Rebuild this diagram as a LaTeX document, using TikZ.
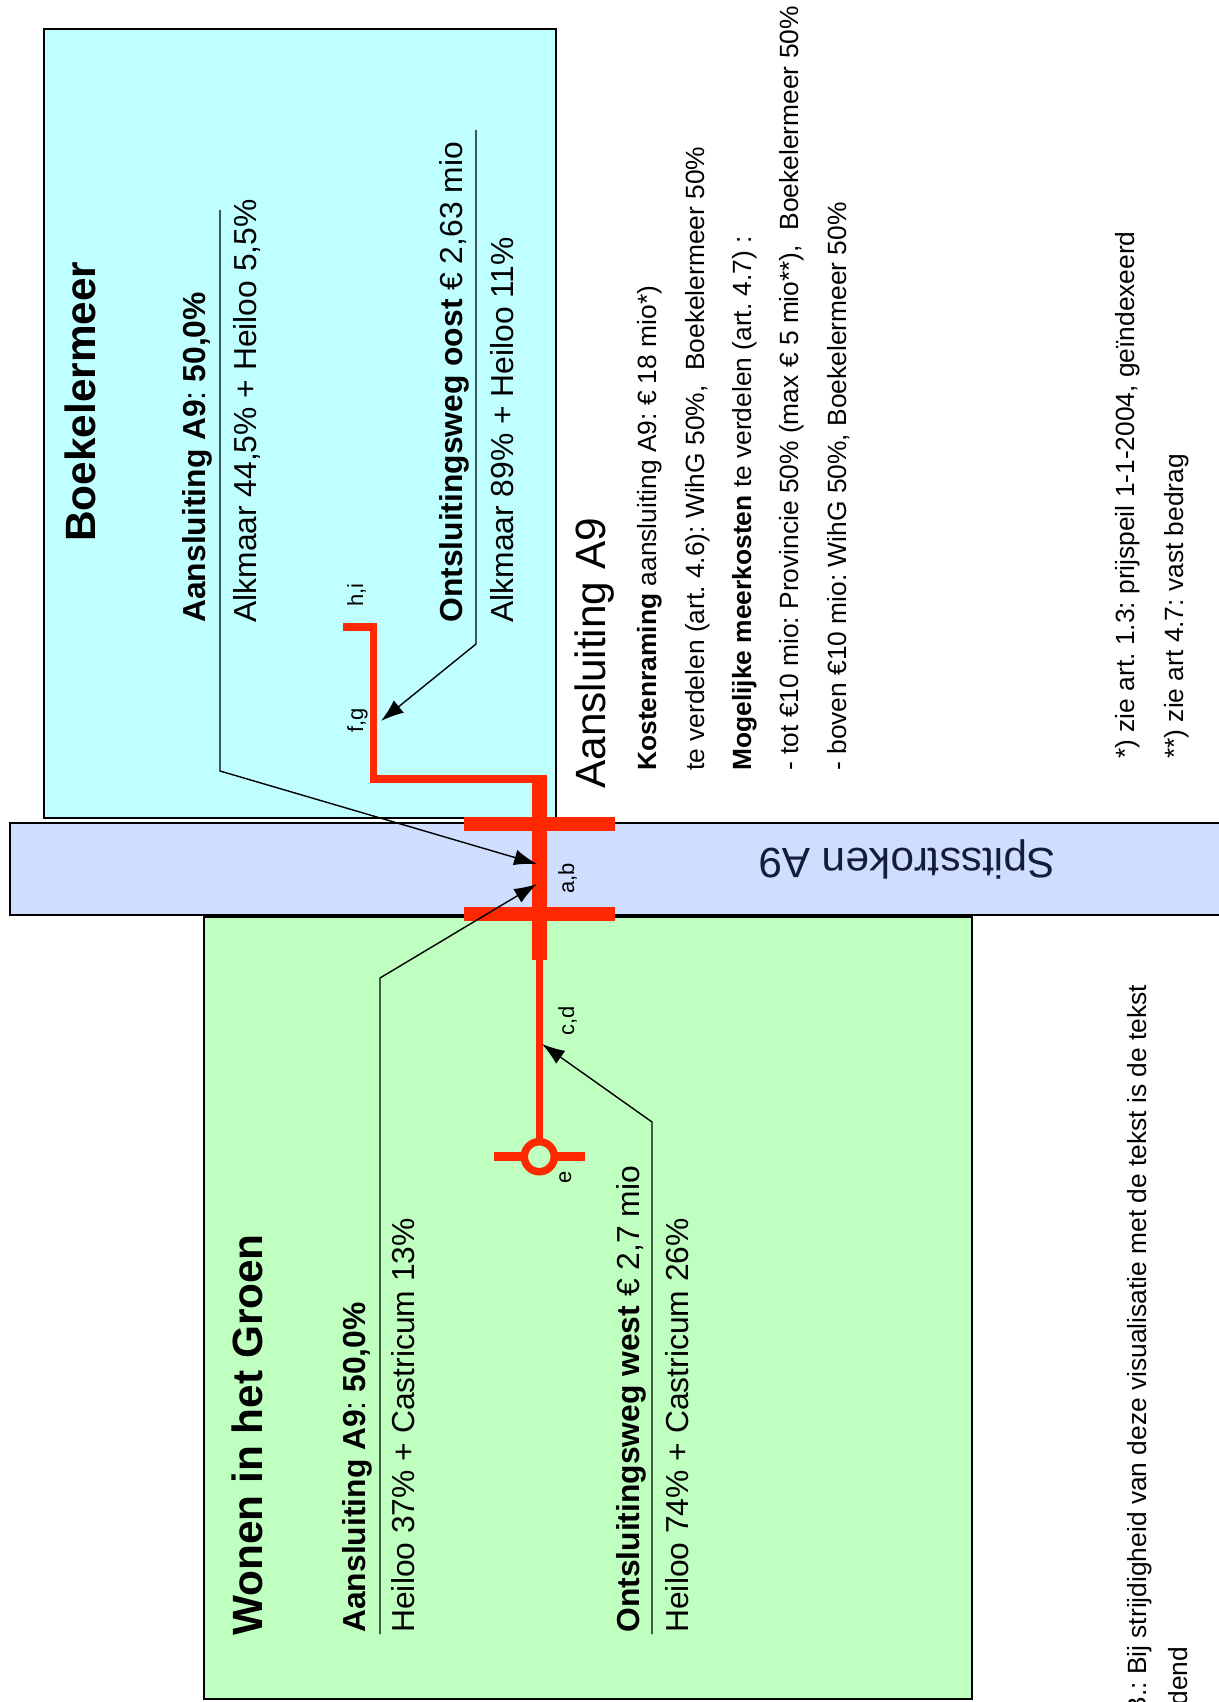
\documentclass[tikz,border=0pt]{standalone}
\usepackage{fontspec}
\setmainfont{Liberation Sans}
\usetikzlibrary{arrows.meta}

\definecolor{boekcyan}{RGB}{191,255,255}
\definecolor{spitsblue}{RGB}{207,222,255}
\definecolor{wihggreen}{RGB}{191,255,191}
\definecolor{roadred}{RGB}{255,40,0}
\definecolor{spitstext}{RGB}{20,28,60}

\tikzset{
	area/.style={draw=black, line width=1.1pt},
	vtext/.style={rotate=90, anchor=base west, inner sep=0pt},
	bigfont/.style={font=\fontsize{24.1}{29}\selectfont},
	boxfont/.style={font=\fontsize{18.1}{22}\selectfont},
	notefont/.style={font=\fontsize{15}{18}\selectfont},
	labelfont/.style={font=\fontsize{12.5}{15}\selectfont},
	road/.style={draw=roadred, line width=4.5pt},
	mainroad/.style={draw=roadred, line width=8.5pt},
	pointer/.style={-{Latex[length=13pt,width=9pt]}, line width=0.8pt},
}

\begin{document}
\frenchspacing
\begin{tikzpicture}[x=0.02cm,y=-0.02cm]
	\useasboundingbox (0,0) rectangle (1218,1702);
	
	% areas
	\filldraw[area, fill=boekcyan] (44,29) rectangle (556,818);
	\filldraw[area, fill=spitsblue] (10,823) rectangle (1240,915);
	\filldraw[area, fill=wihggreen] (204,917) rectangle (972,1699);
	
	\node[rotate=180, anchor=base, inner sep=0pt, bigfont, text=spitstext] (spits) at (907,848) {Spitsstroken A9};
	
	% road
	\draw[road] (343,627) -- (373.5,627) -- (373.5,779) -- (539.5,779);
	\draw[mainroad] (539.5,775) -- (539.5,960);
	\draw[mainroad] (464,824) -- (615,824);
	\draw[mainroad] (464,914) -- (615,914);
	\draw[road] (539.5,960) -- (539.5,1142);
	\draw[roadred, line width=4.3pt] (539.3,1156.7) circle (15);
	\draw[road, line width=4.9pt] (494,1156.5) -- (524.3,1156.5) (554.3,1156.5) -- (585,1156.5);
	
	\node[vtext,labelfont] (lblhi) at (363,607) {h,i};
	\node[vtext,labelfont] (lblfg) at (363,733) {f,g};
	\node[vtext,labelfont] (lblab) at (574,894) {a,b};
	\node[vtext,labelfont] (lblcd) at (574,1036) {c,d};
	\node[vtext,labelfont] (lble) at (571,1184) {e};
	
	% Boekelermeer
	\node[vtext,bigfont] (boektitle) at (95,542) {\bfseries Boekelermeer};
	\node[vtext,boxfont] (boekA) at (205,623) {\textbf{Aansluiting A9}: \textbf{50,0\%}};
	\node[vtext,boxfont] (boekAval) at (256,623) {Alkmaar 44,5\% + Heiloo 5,5\%};
	\node[vtext,boxfont] (boekO) at (462,623) {\textbf{Ontsluitingsweg oost} € 2,63 mio};
	\node[vtext,boxfont] (boekOval) at (513,623) {Alkmaar 89\% + Heiloo 11\%};
	
	% Wonen in het Groen
	\node[vtext,bigfont] (wihgtitle) at (262,1636) {\bfseries Wonen in het Groen};
	\node[vtext,boxfont] (wihgA) at (365,1633) {\textbf{Aansluiting A9}: \textbf{50,0\%}};
	\node[vtext,boxfont] (wihgAval) at (414,1633) {Heiloo 37\% + Castricum 13\%};
	\node[vtext,boxfont] (wihgO) at (639,1633) {\textbf{Ontsluitingsweg west} € 2,7 mio};
	\node[vtext,boxfont] (wihgOval) at (688,1633) {Heiloo 74\% + Castricum 26\%};
	
	% pointers
	\coordinate (boekAtop) at (220,210);
	\coordinate (boekAkink) at (220,771);
	\coordinate (boekOtop) at (476,130);
	\coordinate (boekOkink) at (476,644);
	\coordinate (wihgAbot) at (380,1634);
	\coordinate (wihgAkink) at (380,978);
	\coordinate (wihgObot) at (652,1634);
	\coordinate (wihgOkink) at (652,1122);
	\coordinate (abN) at (537,864);
	\coordinate (abS) at (537,884);
	\coordinate (cdpt) at (542,1044);
	\coordinate (fgpt) at (381,721);
	\draw[pointer] (boekAtop) -- (boekAkink) -- (abN);
	\draw[pointer] (wihgAbot) -- (wihgAkink) -- (abS);
	\draw[pointer] (boekOtop) -- (boekOkink) -- (fgpt);
	\draw[pointer] (wihgObot) -- (wihgOkink) -- (cdpt);
	
	% Aansluiting A9
	\node[vtext,bigfont] (a9title) at (605,789) {Aansluiting A9};
	\node[vtext,notefont] (kosten) at (656,771) {\textbf{Kostenraming} aansluiting A9: € 18 mio*)};
	\node[vtext,notefont] (verdeel) at (704,771) {te verdelen (art. 4.6): WihG 50\%,\ \ Boekelermeer 50\%};
	\node[vtext,notefont] (meer) at (751,771) {\textbf{Mogelijke meerkosten} te verdelen (art. 4.7) :};
	\node[vtext,notefont] (tot) at (798,771) {- tot €10 mio: Provincie 50\% (max € 5 mio**),\ \ Boekelermeer 50\%};
	\node[vtext,notefont] (boven) at (846,771) {- boven €10 mio: WihG 50\%, Boekelermeer 50\%};
	\node[vtext,notefont] (noot1) at (1134,759) {*) zie art. 1.3: prijspeil 1-1-2004, geïndexeerd};
	\node[vtext,notefont] (noot2) at (1183,759) {**) zie art 4.7: vast bedrag};
	\node[vtext,notefont] (nb1) at (1146,1741) {N.B.: Bij strijdigheid van deze visualisatie met de tekst is de tekst};
	\node[vtext,notefont] (nb2) at (1187,1741) {bindend};
\end{tikzpicture}
\end{document}
